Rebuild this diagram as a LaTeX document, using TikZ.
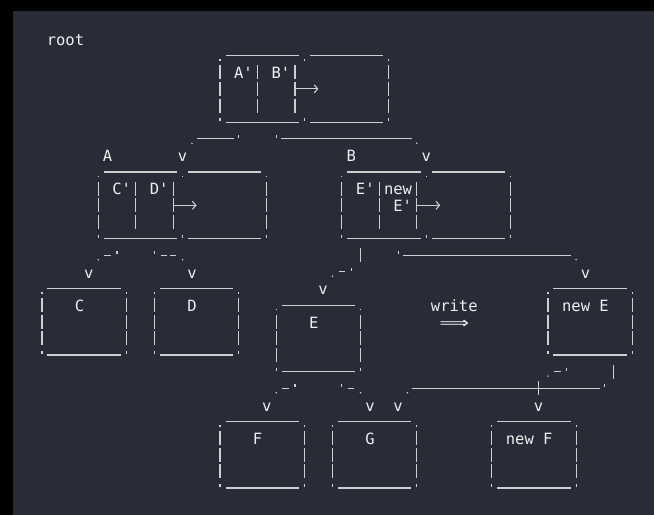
\documentclass[tikz,border=0pt]{standalone}
\usepackage{fontspec}
\usetikzlibrary{arrows.meta}
\newfontfamily\codefont{DejaVu Sans Mono}[Ligatures=TeXOff]
\newfontfamily\arrowfont{DejaVu Sans}
\definecolor{panel}{HTML}{292B37}
\definecolor{linegray}{HTML}{CFCFCF}
\definecolor{textgray}{HTML}{EEEEEE}

\tikzset{
  ascii/.style={draw=linegray, line width=1.1bp},
  cellbox/.style={inner sep=0pt, outer sep=0pt, minimum width=84.33bp, minimum height=66.52bp},
  glyph/.style={text=textgray, font=\codefont\fontsize{15.5bp}{17bp}\selectfont, inner sep=0pt, anchor=base, yshift=-6.3bp},
  boxline/.style={ascii, shorten <=5.5bp, shorten >=5.5bp},
  sidebar/.style={ascii, dash pattern=on 0bp off 3.75bp on 1.6bp off 4.28bp on 14bp off 2.63bp on 14bp off 2.63bp on 14bp off 5.61bp on 3bp off 20bp},
  midmark/.style={ascii, dash pattern=on 0bp off 3.75bp on 1.6bp off 57.15bp on 3bp off 20bp},
  keysep/.style={ascii, dash pattern=on 0bp off 9.63bp on 14bp off 2.63bp on 14bp off 2.63bp on 14bp off 20bp},
  pointer/.style={ascii, -{Straight Barb[length=3.5bp, width=8bp]}},
  pics/tickmark/.style={code={\draw[ascii] (0,1bp) -- (0,4bp);}},
  pics/dotmark/.style={code={\fill[linegray] (0,-4.5bp) circle (0.85bp);}},
  pics/dashmark/.style={code={\draw[ascii] (-3.2bp,0) -- (3.2bp,0);}},
  pics/barmark/.style={code={\draw[ascii] (0,7bp) -- (0,-7bp);}},
}

\begin{document}
\begin{tikzpicture}[x=9.37bp, y=-16.63bp]
  % Draw the window
  \useasboundingbox (-42bp,39bp) rectangle (612bp,-476bp);
  \fill[black] (-42bp,39bp) rectangle (612bp,-476bp);
  \fill[panel] (-29bp,28bp) rectangle (612bp,-476bp);

  \node[glyph] (rootname) at (2.5,0) {root};

  % Draw the inner nodes: keys on the left, pointers on the right
  \node[cellbox] (rootkeys) at (23.5,3) {};
  \node[cellbox] (rootkids) at (32.5,3) {};
  \node[cellbox] (akeys) at (10.5,10) {};
  \node[cellbox] (akids) at (19.5,10) {};
  \node[cellbox] (bkeys) at (36.5,10) {};
  \node[cellbox] (bkids) at (45.5,10) {};
  \foreach \k/\p in {rootkeys/rootkids, akeys/akids, bkeys/bkids} {
    \foreach \b in {\k,\p} {
      \draw[boxline] (\b.north west) -- (\b.north east);
      \draw[boxline] (\b.south west) -- (\b.south east);
    }
    \draw[sidebar] (\k.north west) -- (\k.south west);
    \draw[midmark] (\k.north east) -- (\k.south east);
    \draw[sidebar] (\p.north east) -- (\p.south east);
    \draw[keysep] (\k.north west) ++(4,0) -- ++(0,4);
    \draw[keysep] (\k.north east) ++(-1,0) -- ++(0,4);
    \draw[pointer] (\k.east) ++(-1,0) -- ++(2.5,0);
  }

  % Draw the leaves
  \node[cellbox] (cbox) at (4.5,17) {};
  \node[cellbox] (dbox) at (16.5,17) {};
  \node[cellbox] (ebox) at (29.5,18) {};
  \node[cellbox] (newebox) at (58.5,17) {};
  \node[cellbox] (fbox) at (23.5,25) {};
  \node[cellbox] (gbox) at (35.5,25) {};
  \node[cellbox] (newfbox) at (52.5,25) {};
  \foreach \b in {cbox,dbox,ebox,newebox,fbox,gbox,newfbox} {
    \draw[boxline] (\b.north west) -- (\b.north east);
    \draw[boxline] (\b.south west) -- (\b.south east);
    \draw[sidebar] (\b.north west) -- (\b.south west);
    \draw[sidebar] (\b.north east) -- (\b.south east);
  }

  % Draw the labels
  \node[glyph] (keyap) at (21.5,2) {A'};
  \node[glyph] (keybp) at (25.5,2) {B'};
  \node[glyph] (aname) at (7,7) {A};
  \node[glyph] (bname) at (33,7) {B};
  \node[glyph] (keycp) at (8.5,9) {C'};
  \node[glyph] (keydp) at (12.5,9) {D'};
  \node[glyph] (keyep) at (34.5,9) {E'};
  \node[glyph] (keynew) at (38,9) {new};
  \node[glyph] (keynewep) at (38.5,10) {E'};
  \node[glyph] (cname) at (4,16) {C};
  \node[glyph] (dname) at (16,16) {D};
  \node[glyph] (newename) at (58,16) {new E};
  \node[glyph] (ename) at (29,17) {E};
  \node[glyph] (fname) at (23,24) {F};
  \node[glyph] (gname) at (35,24) {G};
  \node[glyph] (newfname) at (52,24) {new F};
  \node[glyph] (writelabel) at (44,16) {write};
  \node[glyph, font=\arrowfont\fontsize{16bp}{17bp}\selectfont, xscale=1.3] (writearrow) at (44,17) {⟹};

  % Draw the links, drawn the ASCII way
  \draw[ascii] (rootkeys.south west) ++(2,1) pic{tickmark} ++(-0.5,0) -- ++(-4,0) ++(-0.5,0) pic{dotmark} ++(-1,1) node[glyph] (va) {v};
  \draw[ascii] (rootkeys.south west) ++(6,1) pic{tickmark} ++(0.5,0) -- ++(14,0) ++(0.5,0) pic{dotmark} ++(1,1) node[glyph] (vb) {v};
  \draw[ascii] (akeys.south west) ++(2,1) pic{tickmark} ++(-1,0) pic{dashmark} ++(-1,0) pic{dotmark} ++(-1,1) node[glyph] (vc) {v};
  \draw[ascii] (akeys.south west) ++(6,1) pic{tickmark} ++(1,0) pic{dashmark} ++(1,0) pic{dashmark} ++(1,0) pic{dotmark} ++(1,1) node[glyph] (vd) {v};
  \draw[ascii] (bkeys.south west) ++(2,1) pic{barmark} ++(-1,1) pic{tickmark} ++(-1,0) pic{dashmark} ++(-1,0) pic{dotmark} ++(-1,1) node[glyph] (ve) {v};
  \draw[ascii] (bkeys.south west) ++(6,1) pic{tickmark} ++(0.5,0) -- ++(18,0) ++(0.5,0) pic{dotmark} ++(1,1) node[glyph] (vnewe) {v};
  \draw[ascii] (ebox.south west) ++(2,1) pic{tickmark} ++(-1,0) pic{dashmark} ++(-1,0) pic{dotmark} ++(-1,1) node[glyph] (vf) {v};
  \draw[ascii] (ebox.south west) ++(7,1) pic{tickmark} ++(1,0) pic{dashmark} ++(1,0) pic{dotmark} ++(1,1) node[glyph] (vg) {v};
  \draw[ascii] (newebox.south west) ++(2,1) pic{tickmark} ++(-1,0) pic{dashmark} ++(-1,0) pic{dotmark} ++(-1,1) pic{barmark} ++(0,1) node[glyph] (vnewf) {v};
  \draw[ascii] (newebox.south west) ++(7,1) pic{barmark} ++(-1,1) pic{tickmark} ++(-0.5,0) -- ++(-20,0) ++(-0.5,0) pic{dotmark} ++(-1,1) node[glyph] (vshared) {v};
\end{tikzpicture}
\end{document}
